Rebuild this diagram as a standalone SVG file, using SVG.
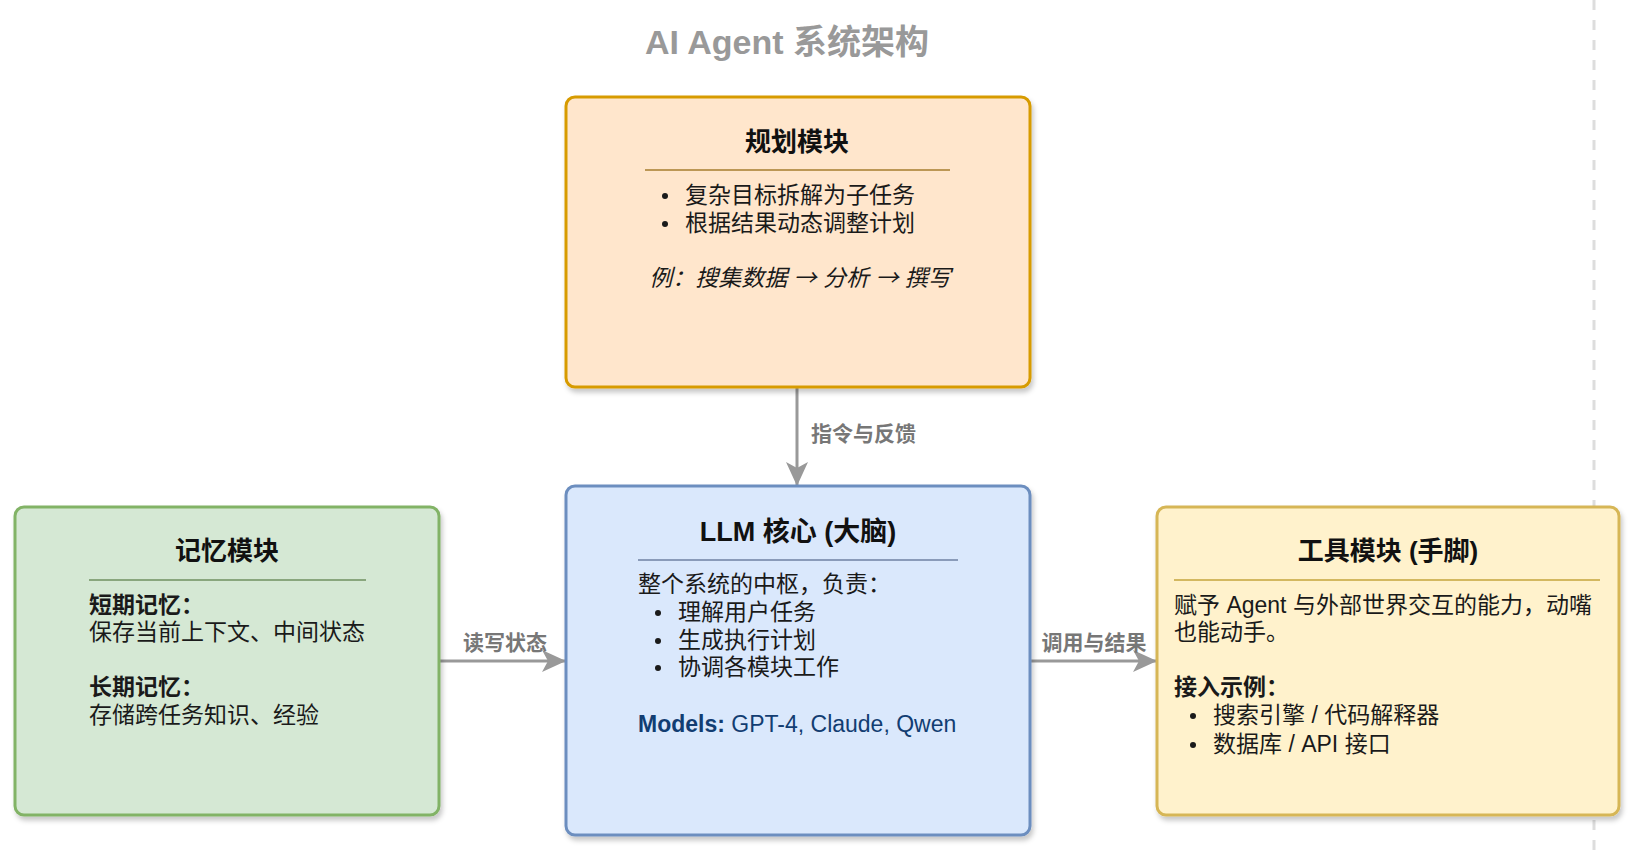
<svg xmlns="http://www.w3.org/2000/svg" width="1640" height="854" viewBox="0 0 1640 854">
<style>
text{font-family:"Liberation Sans","Noto Sans CJK SC",sans-serif;}
.title{font-size:34px;font-weight:bold;fill:#999;}
.ht{font-size:26px;font-weight:bold;fill:#111;text-anchor:middle;}
.tx{font-size:23px;fill:#1a1a1a;}
.b{font-weight:bold;}
.lbl{font-size:21px;font-weight:bold;fill:#777;}
.edge{stroke:#999;stroke-width:3;fill:none;}
.dot{fill:#1a1a1a;}
.ar{font-family:"Noto Sans CJK SC",sans-serif;}
</style>
<defs>
<filter id="sh" x="-5%" y="-5%" width="112%" height="115%">
<feDropShadow dx="2" dy="4" stdDeviation="2.5" flood-color="#000" flood-opacity="0.22"/>
</filter>
<marker id="arr" markerUnits="userSpaceOnUse" markerWidth="24" markerHeight="22" viewBox="0 0 24 22" refX="23" refY="11" orient="auto">
<path d="M0,0 L24,11 L0,22 L6,11 Z" fill="#999"/>
</marker>
</defs>
<rect width="1640" height="854" fill="#fff"/>
<line x1="1594" y1="0" x2="1594" y2="854" stroke="#ddd" stroke-width="3" stroke-dasharray="10 10"/>
<text class="title" x="787" y="54" text-anchor="middle">AI Agent 系统架构</text>

<g id="connectors">
<line class="edge" x1="797" y1="388" x2="797" y2="485" marker-end="url(#arr)"/>
<text class="lbl" x="811" y="441">指令与反馈</text>
<line class="edge" x1="439" y1="661" x2="565" y2="661" marker-end="url(#arr)"/>
<text class="lbl" x="505" y="650" text-anchor="middle">读写状态</text>
<line class="edge" x1="1031" y1="661" x2="1156" y2="661" marker-end="url(#arr)"/>
<text class="lbl" x="1094" y="650" text-anchor="middle">调用与结果</text>
</g>

<g id="planning">
<rect x="566" y="97" width="464" height="290" rx="9" fill="#ffe6cc" stroke="#d79b00" stroke-width="3" filter="url(#sh)"/>
<text class="ht" x="797" y="151">规划模块</text>
<line x1="645" y1="170" x2="950" y2="170" stroke="#a67c2e" stroke-width="1.5"/>
<circle class="dot" cx="665" cy="196" r="3"/>
<text class="tx" x="685" y="203">复杂目标拆解为子任务</text>
<circle class="dot" cx="665" cy="224" r="3"/>
<text class="tx" x="685" y="231">根据结果动态调整计划</text>
<text class="tx" x="800" y="286" text-anchor="middle" font-style="italic">例：搜集数据 <tspan class="ar">→</tspan> 分析 <tspan class="ar">→</tspan> 撰写</text>
</g>

<g id="llm">
<rect x="566" y="486" width="464" height="349" rx="9" fill="#dae8fc" stroke="#6c8ebf" stroke-width="3" filter="url(#sh)"/>
<text class="ht" x="798" y="541" style="font-size:27px">LLM 核心 (大脑)</text>
<line x1="638" y1="560" x2="958" y2="560" stroke="#6f82a3" stroke-width="1.5"/>
<text class="tx" x="638" y="592">整个系统的中枢，负责：</text>
<circle class="dot" cx="658" cy="613" r="3"/>
<text class="tx" x="678" y="620">理解用户任务</text>
<circle class="dot" cx="658" cy="641" r="3"/>
<text class="tx" x="678" y="648">生成执行计划</text>
<circle class="dot" cx="658" cy="668" r="3"/>
<text class="tx" x="678" y="675">协调各模块工作</text>
<text class="tx" x="638" y="732" style="fill:#123d72"><tspan class="b">Models:</tspan> GPT-4, Claude, Qwen</text>
</g>

<g id="memory">
<rect x="15" y="507" width="424" height="308" rx="9" fill="#d5e8d4" stroke="#82b366" stroke-width="3" filter="url(#sh)"/>
<text class="ht" x="227" y="560">记忆模块</text>
<line x1="89" y1="580" x2="366" y2="580" stroke="#6f9061" stroke-width="1.5"/>
<text class="tx b" x="89" y="613">短期记忆：</text>
<text class="tx" x="89" y="640">保存当前上下文、中间状态</text>
<text class="tx b" x="89" y="695">长期记忆：</text>
<text class="tx" x="89" y="723">存储跨任务知识、经验</text>
</g>

<g id="tools">
<rect x="1157" y="507" width="462" height="308" rx="9" fill="#fff2cc" stroke="#d6b656" stroke-width="3" filter="url(#sh)"/>
<text class="ht" x="1388" y="560">工具模块 (手脚)</text>
<line x1="1174" y1="580" x2="1600" y2="580" stroke="#c4a53c" stroke-width="1.5"/>
<text class="tx" x="1174" y="613">赋予 Agent 与外部世界交互的能力，动嘴</text>
<text class="tx" x="1174" y="640">也能动手。</text>
<text class="tx b" x="1174" y="695">接入示例：</text>
<circle class="dot" cx="1193" cy="716" r="3"/>
<text class="tx" x="1213" y="723">搜索引擎 / 代码解释器</text>
<circle class="dot" cx="1193" cy="745" r="3"/>
<text class="tx" x="1213" y="752">数据库 / API 接口</text>
</g>
</svg>
